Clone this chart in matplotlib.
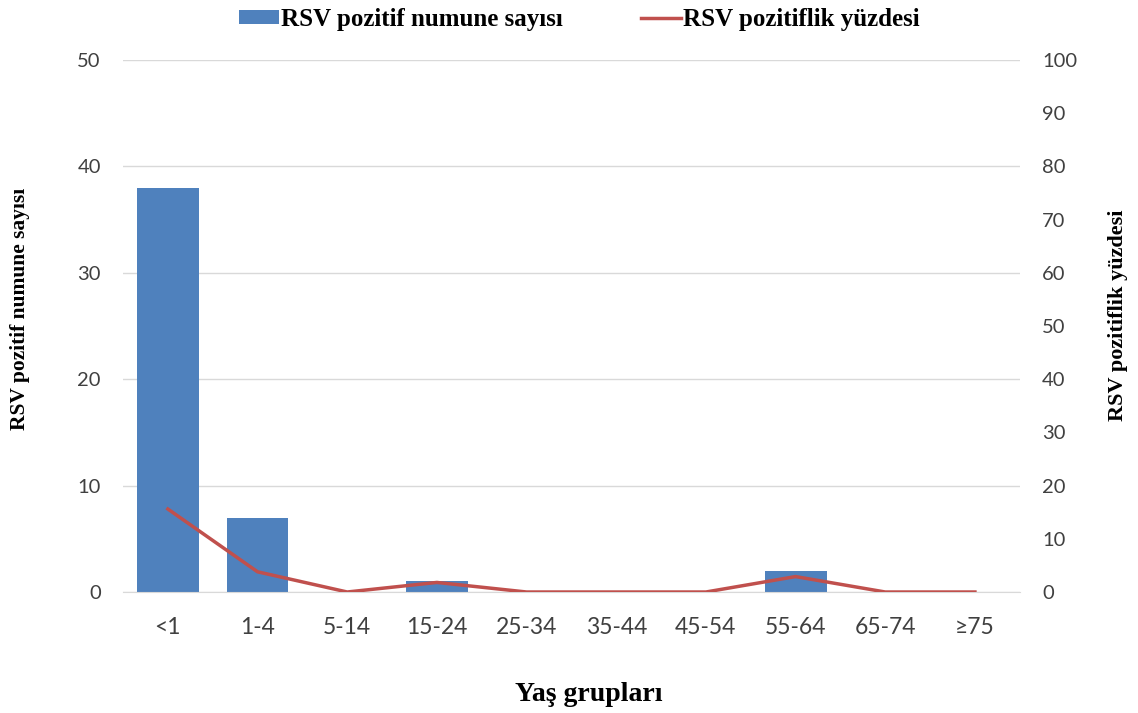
import matplotlib.pyplot as plt
import numpy as np

# Data
age_groups = ['<1', '1-4', '5-14', '15-24', '25-34', '35-44', '45-54', '55-64', '65-74', '≥75']
positive_counts = [38, 7, 0, 1, 0, 0, 0, 2, 0, 0]
positive_pct = [15.6, 3.8, 0, 1.8, 0, 0, 0, 2.9, 0, 0]

plt.rcParams['font.family'] = ['Liberation Serif', 'DejaVu Serif']
tick_font = ['Lato', 'DejaVu Sans']

fig = plt.figure(figsize=(11.38, 7.13), dpi=100)
ax1 = fig.add_axes([0.1081, 0.1697, 0.788, 0.746])
ax2 = ax1.twinx()

x = np.arange(len(age_groups))
bars = ax1.bar(x, positive_counts, 0.69, color='#4f81bd', label='RSV pozitif numune sayısı', zorder=2)
line, = ax2.plot(x, positive_pct, color='#c0504d', linewidth=2.5, label='RSV pozitiflik yüzdesi', zorder=3)

ax1.set_xlim(-0.5, len(age_groups) - 0.5)
ax1.set_ylim(0, 50)
ax2.set_ylim(0, 100)
ax1.set_yticks(range(0, 51, 10))
ax2.set_yticks(range(0, 101, 10))
ax1.set_xticks(x)
ax1.set_xticklabels(age_groups)

ax1.yaxis.grid(True, color='#d9d9d9', linewidth=1, zorder=0)
ax1.set_axisbelow(True)
for a in (ax1, ax2):
    for s in a.spines.values():
        s.set_visible(False)
    a.tick_params(length=0, colors='#404040')
ax1.spines['bottom'].set_visible(True)
ax1.spines['bottom'].set_color('#d9d9d9')
ax2.set_zorder(ax1.get_zorder() + 1)
ax2.patch.set_visible(False)

ax1.tick_params(axis='x', labelsize=16.5, pad=18)
ax1.tick_params(axis='y', labelsize=14.5, pad=16)
ax2.tick_params(axis='y', labelsize=14.5, pad=16)
for lbl in ax1.get_xticklabels() + ax1.get_yticklabels() + ax2.get_yticklabels():
    lbl.set_family(tick_font)

ax1.set_ylabel('RSV pozitif numune sayısı', fontsize=15.5, fontweight='bold', va='center')
ax1.yaxis.set_label_coords(-0.115, 0.532)
ax2.set_ylabel('RSV pozitiflik yüzdesi', fontsize=16, fontweight='bold', va='center', rotation=90)
ax2.yaxis.set_label_coords(1.109, 0.521)
ax1.set_xlabel('Yaş grupları', fontsize=20, fontweight='bold', va='center')
ax1.xaxis.set_label_coords(0.519, -0.192)

fig.legend(handles=[bars, line], loc='center', bbox_to_anchor=(0.509, 0.973), ncol=2,
           frameon=False, prop={'size': 18, 'weight': 'bold'}, handlelength=1.6,
           handleheight=0.45, handletextpad=0.1, columnspacing=3.1)

plt.savefig('out.png', dpi=100)
